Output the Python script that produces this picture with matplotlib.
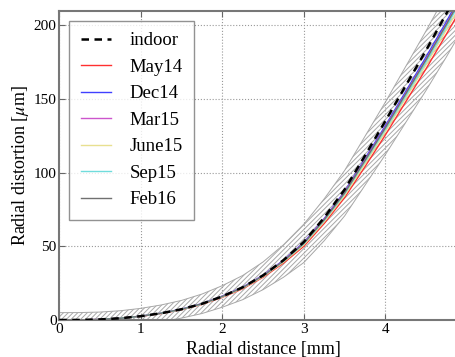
import matplotlib
matplotlib.use("Agg")
import matplotlib.pyplot as plt

plt.rcParams['font.family'] = ['Liberation Serif', 'DejaVu Serif']
plt.rcParams['mathtext.fontset'] = 'stix'
plt.rcParams['hatch.color'] = '#a8a8a8'
plt.rcParams['hatch.linewidth'] = 0.7

r_mm = [0, 0.25, 0.5, 0.75, 1.0, 1.25, 1.5, 1.75, 2.0, 2.25, 2.5, 2.75,
        3.0, 3.25, 3.5, 3.75, 4.0, 4.25, 4.5, 4.75, 5.0]

indoor = [0, 0.05, 0.4, 1.2, 2.6, 4.6, 7.3, 11, 16, 22.2, 30.3, 40.6, 53, 69.5,
          88.5, 111.5, 135, 159, 183, 208, 234]
may14 = [0, 0.05, 0.4, 1.2, 2.5, 4.4, 7.0, 10.6, 15.4, 21.2, 29, 38.6, 50, 65.5,
         83, 104, 125.5, 148, 170.5, 194, 218]
dec14 = [0, 0.05, 0.4, 1.2, 2.6, 4.6, 7.4, 11.1, 16.2, 22.3, 30.4, 40.5, 52.7,
         68.8, 87.2, 109.5, 131.8, 155, 178.5, 202.5, 228]
mar15 = [0, 0.05, 0.4, 1.2, 2.6, 4.6, 7.3, 11, 16.1, 22.1, 30.2, 40.2, 52.3,
         68.3, 86.6, 108.6, 130.8, 153.8, 177, 201, 226]
june15 = [0, 0.05, 0.4, 1.2, 2.55, 4.5, 7.15, 10.8, 15.7, 21.6, 29.5, 39.3, 51,
          66.7, 84.5, 106, 127.8, 150.5, 173.2, 197, 221]
sep15 = [0, 0.05, 0.4, 1.2, 2.6, 4.6, 7.25, 10.9, 15.9, 21.9, 29.8, 39.8, 51.7,
         67.5, 85.6, 107.4, 129.3, 152, 175, 199, 224]
feb16 = [0, 0.05, 0.4, 1.2, 2.6, 4.6, 7.3, 11, 16, 22, 30, 40, 52, 68, 86.2,
         108.2, 130.4, 153.4, 176.6, 200.6, 225.6]

band_center = [0, 0.05, 0.4, 1.2, 2.6, 4.6, 7.3, 11, 16, 22, 30, 40, 52, 68, 86,
               108, 130, 153, 176, 200, 225]
band_half = [5, 5, 5, 5.1, 5.3, 5.6, 6, 6.6, 7.3, 8.2, 9.4, 11, 13, 14.2, 15.4,
             16.6, 17.8, 19, 20.2, 21.4, 22.6]

fig = plt.figure(figsize=(4.56, 3.57), dpi=100, facecolor='white')
ax = fig.add_axes([0.130, 0.1036, 0.894, 0.8655])

lo = [c - h for c, h in zip(band_center, band_half)]
hi = [c + h for c, h in zip(band_center, band_half)]
ax.fill_between(r_mm, lo, hi, facecolor='none', edgecolor='#a8a8a8',
                hatch='///////', linewidth=0.7, zorder=1)

series = [
    ("May14", may14, '#ff3030'),
    ("Dec14", dec14, '#4040ff'),
    ("Mar15", mar15, '#cc55cc'),
    ("June15", june15, '#e8e090'),
    ("Sep15", sep15, '#70dcdc'),
    ("Feb16", feb16, '#707070'),
]
ax.plot(r_mm, indoor, color='k', ls=(0, (3, 2.2)), lw=1.8, label='indoor',
        zorder=3)
for name, vals, col in series:
    ax.plot(r_mm, vals, color=col, lw=1.0, label=name, zorder=2)

ax.set_xlim(0, 5.0)
ax.set_ylim(0, 209.5)
ax.set_xticks([0, 1, 2, 3, 4])
ax.set_yticks([0, 50, 100, 150, 200])
ax.grid(True, linestyle=':', color='#999999', lw=0.8)
ax.tick_params(direction='in', top=True, right=True, labelsize=11, length=4,
               color='#666666', pad=2)
for s in ax.spines.values():
    s.set_color('#777777')
    s.set_linewidth(1.5)

ax.set_xlabel('Radial distance [mm]', fontsize=13, labelpad=4)
ax.set_ylabel(r'Radial distortion [$\mu$m]', fontsize=13, labelpad=2)

leg = ax.legend(loc='upper left', fontsize=13.5, frameon=True, fancybox=False,
                edgecolor='#777777', handlelength=1.6, labelspacing=0.5,
                borderpad=0.6, handletextpad=1.0, borderaxespad=0,
                bbox_to_anchor=(0.0245, 0.968))
leg.get_frame().set_linewidth(1.0)

fig.savefig('out.png', dpi=100, facecolor='white')
